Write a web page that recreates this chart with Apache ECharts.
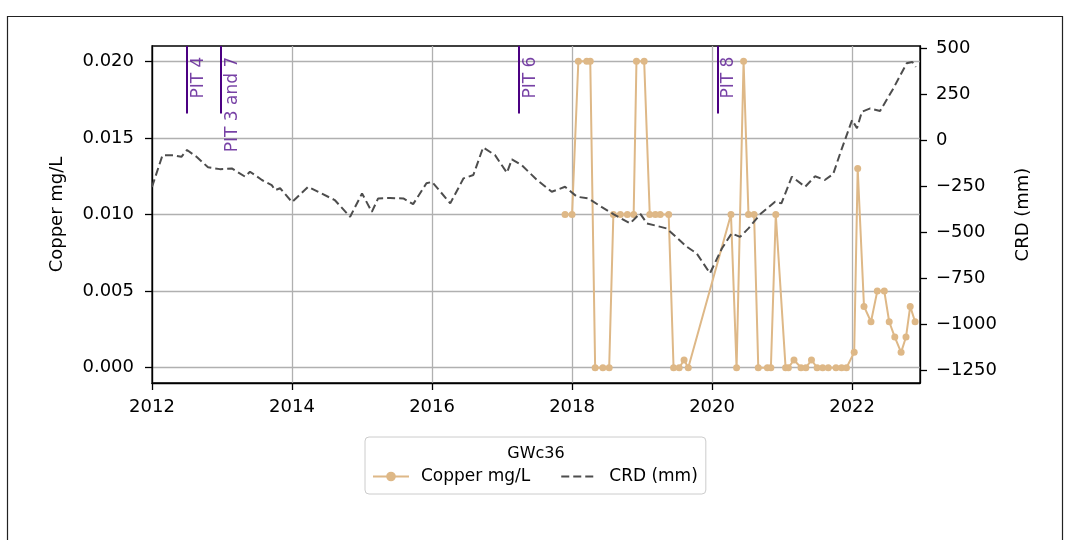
<!DOCTYPE html>
<html><head><meta charset="utf-8">
<script src="https://cdn.jsdelivr.net/npm/echarts@6/dist/echarts.min.js"></script>
<style>html,body{margin:0;padding:0;background:#fff;} #c{width:1065px;height:540px;}</style>
</head><body><div id="c"></div>
<script>
// ---- data (decimal years) ----
const copperDates = [2017.90, 2018.00, 2018.09, 2018.21, 2018.26, 2018.33, 2018.44, 2018.53, 2018.59, 2018.69,
  2018.79, 2018.88, 2018.92, 2019.03, 2019.11, 2019.19, 2019.26, 2019.38, 2019.45, 2019.53,
  2019.60, 2019.66, 2020.27, 2020.35, 2020.45, 2020.52, 2020.60, 2020.66, 2020.79, 2020.84,
  2020.91, 2021.05, 2021.09, 2021.17, 2021.27, 2021.34, 2021.42, 2021.50, 2021.58, 2021.66,
  2021.77, 2021.85, 2021.92, 2022.03, 2022.08, 2022.17, 2022.27, 2022.36, 2022.46, 2022.53,
  2022.61, 2022.70, 2022.77, 2022.83, 2022.90];
const copperValues = [0.010, 0.010, 0.020, 0.020, 0.020, 0, 0, 0, 0.010, 0.010,
  0.010, 0.010, 0.020, 0.020, 0.010, 0.010, 0.010, 0.010, 0, 0,
  0.0005, 0, 0.010, 0, 0.020, 0.010, 0.010, 0, 0, 0,
  0.010, 0, 0, 0.0005, 0, 0, 0.0005, 0, 0, 0,
  0, 0, 0, 0.001, 0.013, 0.004, 0.003, 0.005, 0.005, 0.003,
  0.002, 0.001, 0.002, 0.004, 0.003];
const crdDates = [2012.00, 2012.15, 2012.30, 2012.42, 2012.50, 2012.64, 2012.80, 2012.97, 2013.14, 2013.33,
  2013.40, 2013.57, 2013.71, 2013.76, 2013.83, 2014.00, 2014.23, 2014.42, 2014.61, 2014.83,
  2015.00, 2015.14, 2015.23, 2015.40, 2015.59, 2015.73, 2015.92, 2016.00, 2016.26, 2016.45,
  2016.59, 2016.73, 2016.90, 2017.07, 2017.14, 2017.28, 2017.50, 2017.71, 2017.90, 2018.07,
  2018.23, 2018.42, 2018.59, 2018.83, 2018.97, 2019.07, 2019.35, 2019.64, 2019.78, 2019.97,
  2020.14, 2020.28, 2020.40, 2020.52, 2020.69, 2020.90, 2020.99, 2021.14, 2021.33, 2021.47,
  2021.61, 2021.73, 2021.83, 2022.00, 2022.07, 2022.14, 2022.26, 2022.40, 2022.59, 2022.78,
  2022.86, 2022.91];
const crdValues = [-255, -82, -82, -91, -54, -92, -148, -158, -154, -199,
  -172, -217, -245, -272, -262, -337, -254, -290, -326, -417,
  -290, -390, -317, -315, -317, -348, -235, -227, -344, -208,
  -190, -40, -82, -178, -105, -136, -217, -281, -254, -308,
  -317, -363, -402, -453, -398, -453, -480, -580, -616, -724,
  -589, -507, -526, -480, -402, -335, -344, -199, -254, -197,
  -217, -185, -72, 109, 64, 154, 172, 158, 281, 417,
  424, 397];
const pitDates = [2012.496, 2012.986, 2017.239, 2020.076];
const pitLabels = ['PIT 4', 'PIT 3 and 7', 'PIT 6', 'PIT 8'];
const xTicks = [2012, 2014, 2016, 2018, 2020, 2022];
const copperTicks = [0, 0.005, 0.010, 0.015, 0.020];
const crdTicks = [-1250, -1000, -750, -500, -250, 0, 250, 500];
const legendTitle = 'GWc36';
const copperName = 'Copper mg/L';
const crdName = 'CRD (mm)';

// ---- build ----
const FONT = 'DejaVu Sans';
const copperData = copperDates.map((d, i) => [d, copperValues[i]]);
const crdData = crdDates.map((d, i) => [d, crdValues[i]]);
const PIT_TOP = 0.021, PIT_BOTTOM = 0.0166, PIT_TEXT = 0.0203;
const pitLines = pitDates.map(d => [{coord: [d, PIT_TOP]}, {coord: [d, PIT_BOTTOM]}]);
const pitText = pitDates.map(d => [d, PIT_TEXT]);
const minus = v => String(v).replace('-', '\u2212');
const TICK_FS = 18;

const chart = echarts.init(document.getElementById('c'), null, {renderer: 'canvas'});
chart.setOption({
  animation: false,
  backgroundColor: '#fff',
  textStyle: {fontFamily: FONT},
  grid: {left: 152, right: 145, top: 46, bottom: 157, show: true, borderColor: '#000', borderWidth: 1.3, backgroundColor: 'transparent'},
  xAxis: {
    type: 'value', min: 2012, max: 2022.97,
    axisLine: {show: true, onZero: false, lineStyle: {color: '#000', width: 1.3}},
    axisTick: {show: true, length: 7, lineStyle: {color: '#000', width: 1.3}, customValues: xTicks},
    axisLabel: {fontSize: TICK_FS, color: '#000', margin: 15, fontFamily: FONT, customValues: xTicks, formatter: v => String(Math.round(v))},
    splitLine: {show: true, lineStyle: {color: '#b0b0b0', width: 1.3}}
  },
  yAxis: [{
    type: 'value', min: -0.001, max: 0.021, position: 'left',
    name: copperName, nameLocation: 'middle', nameGap: 86, nameRotate: 90,
    nameTextStyle: {fontSize: TICK_FS, color: '#000', fontFamily: FONT},
    axisLine: {show: true, onZero: false, lineStyle: {color: '#000', width: 1.3}},
    axisTick: {show: true, length: 7, lineStyle: {color: '#000', width: 1.3}, customValues: copperTicks},
    axisLabel: {fontSize: TICK_FS, color: '#000', margin: 18, fontFamily: FONT, customValues: copperTicks, formatter: v => v.toFixed(3)},
    splitLine: {show: true, lineStyle: {color: '#b0b0b0', width: 1.3}}
  }, {
    type: 'value', min: -1320, max: 511, position: 'right',
    name: crdName, nameLocation: 'middle', nameGap: 94, nameRotate: 90,
    nameTextStyle: {fontSize: TICK_FS, color: '#000', fontFamily: FONT},
    axisLine: {show: true, onZero: false, lineStyle: {color: '#000', width: 1.3}},
    axisTick: {show: true, length: 7, lineStyle: {color: '#000', width: 1.3}, customValues: crdTicks},
    axisLabel: {fontSize: TICK_FS, color: '#000', margin: 16, fontFamily: FONT, customValues: crdTicks, formatter: v => minus(v)},
    splitLine: {show: false}
  }],
  legend: {
    left: 365, top: 437,
    padding: [31, 8, 9, 7],
    itemWidth: 36, itemHeight: 12, itemGap: 30,
    borderColor: '#cccccc', borderWidth: 1, borderRadius: 4, backgroundColor: '#fff',
    textStyle: {fontSize: 17, color: '#000', fontFamily: FONT, padding: [0, 0, 0, 7]},
    data: [{name: copperName}, {name: crdName, itemStyle: {opacity: 0}}]
  },
  graphic: [
    {type: 'rect', shape: {x: 7.5, y: 16.5, width: 1055, height: 600}, style: {fill: 'none', stroke: '#222', lineWidth: 1.2}, silent: true},
    {type: 'text', x: 536, y: 454, style: {text: legendTitle, fontSize: 16, fontFamily: FONT, fill: '#000', textAlign: 'center', textVerticalAlign: 'middle'}, z: 100}
  ],
  series: [{
    name: copperName, type: 'line', yAxisIndex: 0, data: copperData,
    symbol: 'circle', symbolSize: 7, showSymbol: true,
    itemStyle: {color: '#deb887'}, lineStyle: {color: '#deb887', width: 2},
    z: 2,
    markLine: {
      silent: true, symbol: ['none', 'none'],
      lineStyle: {color: '#4b0082', width: 2, type: 'solid'},
      label: {show: false},
      data: pitLines
    }
  }, {
    name: crdName, type: 'line', yAxisIndex: 1, data: crdData,
    symbol: 'none', showSymbol: false,
    itemStyle: {color: '#4d4d4d'}, lineStyle: {color: '#4d4d4d', width: 2, type: [8, 4]},
    z: 3
  }, {
    name: 'pits', type: 'scatter', yAxisIndex: 0, data: pitText,
    symbolSize: 0, silent: true, z: 4,
    label: {show: true, position: [3, 0], rotate: 90, align: 'right', verticalAlign: 'top',
      fontSize: 17, color: '#55118f', fontFamily: FONT, formatter: p => pitLabels[p.dataIndex]}
  }]
});
</script></body></html>
